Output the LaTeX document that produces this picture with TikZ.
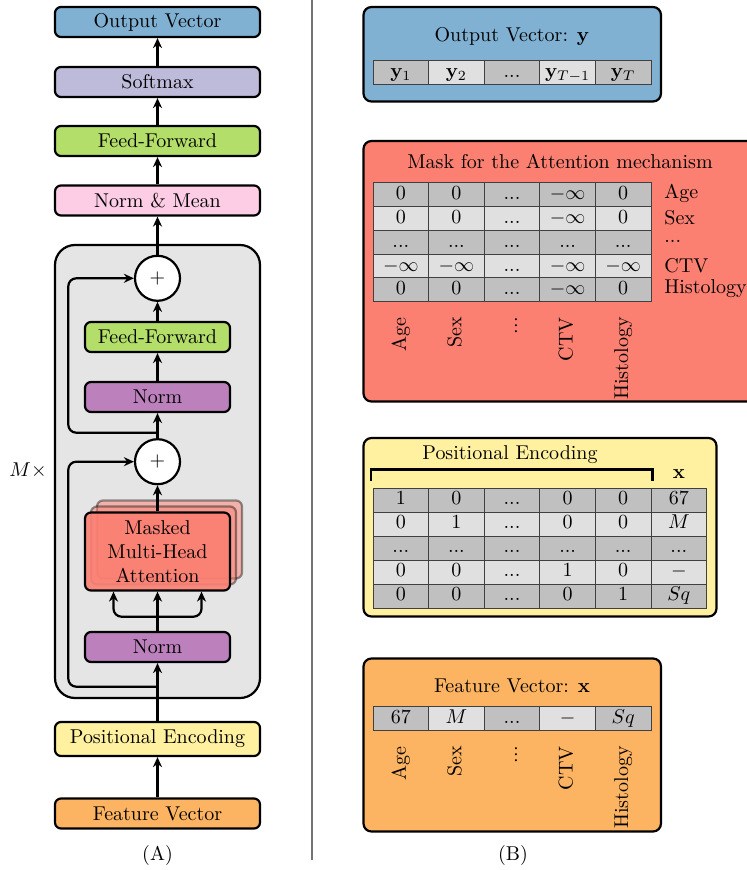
\documentclass[tikz,border=0pt]{standalone}
\usepackage{amsmath}
\usepackage{amssymb}
\usepackage{xcolor}
\usepackage{tikz}
\usetikzlibrary{arrows.meta,calc}

\definecolor{outblue}{HTML}{80B1D3}
\definecolor{softlav}{HTML}{BEBADA}
\definecolor{ffgreen}{HTML}{B3DE69}
\definecolor{meanpink}{HTML}{FCCDE5}
\definecolor{normpurple}{HTML}{BC80BD}
\definecolor{attred}{HTML}{FB8072}
\definecolor{posyellow}{HTML}{FFF1A0}
\definecolor{featorange}{HTML}{FDB462}
\definecolor{boxgray}{HTML}{E5E5E5}
\definecolor{celldark}{HTML}{C0C0C0}
\definecolor{celllight}{HTML}{E0E0E0}
\newcommand{\ddd}{...}

\begin{document}
\begin{tikzpicture}[x=0.5pt,y=-0.5pt]
\tikzstyle{block}=[draw, rounded corners=3pt, line width=1.1pt, minimum width=102.5pt, minimum height=15pt, inner sep=1pt, align=center]
\tikzstyle{sub}=[block, minimum width=72.5pt]
\tikzstyle{sum}=[circle, draw, fill=white, line width=1.1pt, minimum size=22.5pt, inner sep=0pt]
\tikzstyle{arr}=[-{Stealth[length=5pt,width=4.5pt]}, line width=1.1pt]
\tikzstyle{panel}=[draw, rounded corners=4pt, line width=1.1pt]
\tikzstyle{cell}=[draw=black!75, line width=0.5pt, minimum width=27.8pt, minimum height=12pt, inner sep=0pt, text height=6.9pt, text depth=2pt]
\tikzstyle{lbl}=[rotate=90, anchor=east, inner sep=0pt, text height=7pt, text depth=2pt]
\useasboundingbox (0,0) rectangle (747,870);

% (A) model
\draw[fill=boxgray, line width=1.1pt, rounded corners=10pt] (55,245) rectangle (260,698);

\node[block, fill=outblue] (out) at (157.5,22) {Output Vector};
\node[block, fill=softlav] (soft) at (157.5,82) {Softmax};
\node[block, fill=ffgreen] (ff2) at (157.5,141) {Feed-Forward};
\node[block, fill=meanpink] (mean) at (157.5,200.5) {Norm \& Mean};
\node[sum] (add2) at (157.5,278.3) {$+$};
\node[sub, fill=ffgreen] (ff1) at (157.5,337) {Feed-Forward};
\node[sub, fill=normpurple] (norm2) at (157.5,397) {Norm};
\node[sum] (add1) at (157.5,461.7) {$+$};
\node[sub, fill=attred, fill opacity=0.5, draw opacity=0.4, minimum height=39pt] (mha3) at (169.5,539.5) {};
\node[sub, fill=attred, fill opacity=0.5, draw opacity=0.4, minimum height=39pt] (mha2) at (163.5,545.5) {};
\node[sub, fill=attred, fill opacity=0.9, text opacity=1, minimum height=39pt] (mha) at (157.5,551.5) {Masked\\Multi-Head\\Attention};
\node[sub, fill=normpurple] (norm1) at (157.5,647) {Norm};
\node[block, fill=posyellow, minimum height=17pt] (pos) at (157.5,739) {Positional Encoding};
\node[block, fill=featorange] (feat) at (157.5,813.5) {Feature Vector};
\node (mtimes) at (28,470) {$M\times$};
\node (capA) at (157.5,855) {(A)};

\coordinate (split) at (157.5,616.7);
\coordinate (skip1) at (157.5,686.7);
\coordinate (skip2) at (157.5,432.7);

\draw[arr] (feat) -- (pos);
\draw[arr] (pos) -- (norm1);
\draw[arr] (norm1) -- (mha);
\draw[arr, rounded corners=4pt] (split) -| ($(mha.south)+(-44,0)$);
\draw[arr, rounded corners=4pt] (split) -| ($(mha.south)+(44,0)$);
\draw[arr] (mha) -- (add1);
\draw[arr] (add1) -- (norm2);
\draw[arr] (norm2) -- (ff1);
\draw[arr] (ff1) -- (add2);
\draw[arr] (add2) -- (mean);
\draw[arr] (mean) -- (ff2);
\draw[arr] (ff2) -- (soft);
\draw[arr] (soft) -- (out);
\draw[arr, rounded corners=4pt] (skip1) -- (68.3,686.7) |- (add1);
\draw[arr, rounded corners=4pt] (skip2) -- (68.3,432.7) |- (add2);

\draw[black!55, line width=0.6pt] (312,0) -- (312,860);

% (B) output vector
\draw[panel, fill=outblue] (363.5,7) rectangle (661,101.5);
\node (outtitle) at (512,36) {Output Vector: $\mathbf{y}$};
\foreach \k/\tone/\v in {1/celldark/{$\mathbf{y}_1$}, 2/celllight/{$\mathbf{y}_2$}, 3/celldark/\ddd, 4/celllight/{$\mathbf{y}_{T-1}$}, 5/celldark/{$\mathbf{y}_T$}}
  \node[cell, fill=\tone] (y\k) at (345.2+55.6*\k,72.5) {\v};

% mask
\draw[panel, fill=attred] (363.5,141) rectangle (770,401.5);
\node (masktitle) at (560,161) {Mask for the Attention mechanism};
\foreach \r/\tone/\a/\b/\d/\e/\name in {1/celldark/0/0/$-\infty$/0/Age, 2/celllight/0/0/$-\infty$/0/Sex, 3/celldark/\ddd/\ddd/\ddd/\ddd/\ddd, 4/celllight/$-\infty$/$-\infty$/$-\infty$/$-\infty$/CTV, 5/celldark/0/0/$-\infty$/0/Histology}{
  \node[cell, fill=\tone] (m\r1) at (400.8,171+23.8*\r) {\a};
  \node[cell, fill=\tone] (m\r2) at (456.4,171+23.8*\r) {\b};
  \node[cell, fill=\tone] (m\r3) at (512,171+23.8*\r) {\ddd};
  \node[cell, fill=\tone] (m\r4) at (567.6,171+23.8*\r) {\d};
  \node[cell, fill=\tone] (m\r5) at (623.2,171+23.8*\r) {\e};
  \node[anchor=west, inner sep=0pt] (mrow\r) at (664,170+23.8*\r) {\name};
}
\foreach \name [count=\k] in {Age,Sex,\ddd,CTV,Histology}
  \node[lbl] (mcol\k) at (345.2+55.6*\k,317) {\name};

% positional encoding
\draw[panel, fill=posyellow] (363.5,438) rectangle (716.5,616.5);
\node (postitle) at (510,455) {Positional Encoding};
\draw[line width=1.3pt] (371,481) -- (371,469.5) -- (652.5,469.5) -- (652.5,481);
\node (xhead) at (679,474) {$\mathbf{x}$};
\foreach \r/\tone/\a/\b/\d/\e/\f in {1/celldark/1/0/0/0/67, 2/celllight/0/1/0/0/$M$, 3/celldark/\ddd/\ddd/\ddd/\ddd/\ddd, 4/celllight/0/0/1/0/$-$, 5/celldark/0/0/0/1/$Sq$}{
  \node[cell, fill=\tone] (p\r1) at (400.8,476+24*\r) {\a};
  \node[cell, fill=\tone] (p\r2) at (456.4,476+24*\r) {\b};
  \node[cell, fill=\tone] (p\r3) at (512,476+24*\r) {\ddd};
  \node[cell, fill=\tone] (p\r4) at (567.6,476+24*\r) {\d};
  \node[cell, fill=\tone] (p\r5) at (623.2,476+24*\r) {\e};
  \node[cell, fill=\tone] (p\r6) at (678.8,476+24*\r) {\f};
}

% feature vector
\draw[panel, fill=featorange] (363.5,658.5) rectangle (661,831.5);
\node (feattitle) at (512,686) {Feature Vector: $\mathbf{x}$};
\foreach \k/\tone/\v in {1/celldark/67, 2/celllight/$M$, 3/celldark/\ddd, 4/celllight/$-$, 5/celldark/$Sq$}
  \node[cell, fill=\tone] (x\k) at (345.2+55.6*\k,718.3) {\v};
\foreach \name [count=\k] in {Age,Sex,\ddd,CTV,Histology}
  \node[lbl] (xcol\k) at (345.2+55.6*\k,746) {\name};
\node (capB) at (513,855) {(B)};

\end{tikzpicture}
\end{document}
